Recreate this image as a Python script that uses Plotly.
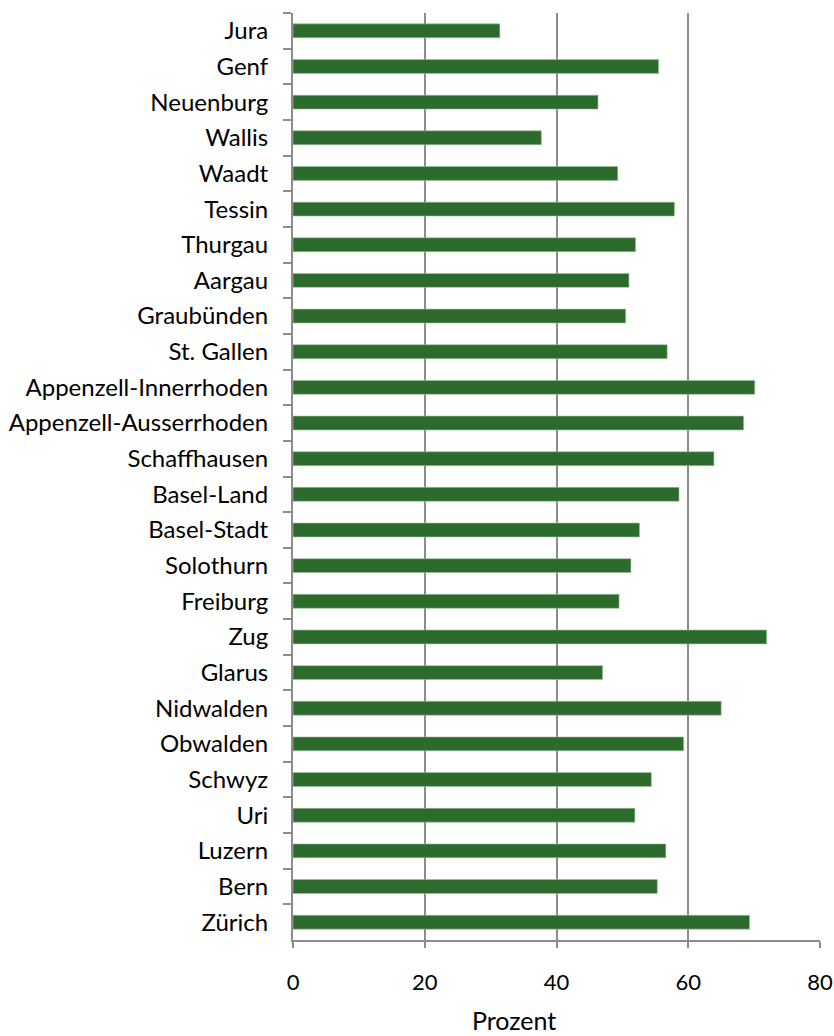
import plotly.graph_objects as go

cantons = ["Jura", "Genf", "Neuenburg", "Wallis", "Waadt", "Tessin", "Thurgau", "Aargau",
           "Graubünden", "St. Gallen", "Appenzell-Innerrhoden", "Appenzell-Ausserrhoden",
           "Schaffhausen", "Basel-Land", "Basel-Stadt", "Solothurn", "Freiburg", "Zug",
           "Glarus", "Nidwalden", "Obwalden", "Schwyz", "Uri", "Luzern", "Bern", "Zürich"]
prozent = [31.4, 55.5, 46.3, 37.7, 49.3, 57.9, 52.0, 51.0,
           50.5, 56.8, 70.1, 68.4,
           63.9, 58.6, 52.6, 51.3, 49.5, 71.9,
           47.0, 65.0, 59.3, 54.4, 51.9, 56.6, 55.3, 69.3]
x_ticks = [0, 20, 40, 60, 80]
x_title = "Prozent"

fig = go.Figure(go.Bar(
    x=prozent, y=cantons, orientation="h",
    marker=dict(color="#2D6B2D", line=dict(color="#9cc49c", width=0.6)),
))

font = "Lato, Open Sans, DejaVu Sans, sans-serif"
fig.update_layout(
    width=834, height=1036,
    margin=dict(l=293, r=14, t=13, b=96),
    plot_bgcolor="white", paper_bgcolor="white",
    bargap=0.61,
    showlegend=False,
    font=dict(family=font, size=22, color="#000000"),
    annotations=[dict(
        text=x_title, xref="paper", yref="paper",
        x=0.419, y=-0.0863, xanchor="center", yanchor="middle",
        showarrow=False, font=dict(size=25),
    )],
)
fig.update_xaxes(
    range=[0, 80], tickvals=x_ticks, ticktext=[str(v) for v in x_ticks],
    showgrid=True, gridcolor="#8c8c8c", gridwidth=1.5,
    showline=True, linecolor="#8c8c8c", linewidth=2,
    ticks="outside", ticklen=6, tickcolor="#8c8c8c", tickwidth=1.5,
    tickfont=dict(size=22), ticklabelstandoff=16,
    zeroline=False, fixedrange=True, automargin=False,
)
fig.update_yaxes(
    autorange="reversed", categoryorder="array", categoryarray=cantons,
    showline=True, linecolor="#8c8c8c", linewidth=2,
    ticks="outside", tickson="boundaries", ticklen=8, tickcolor="#8c8c8c", tickwidth=1.5,
    tickfont=dict(size=24), ticklabelstandoff=18,
    showgrid=False, fixedrange=True, automargin=False,
)

fig.write_html("out.html")
